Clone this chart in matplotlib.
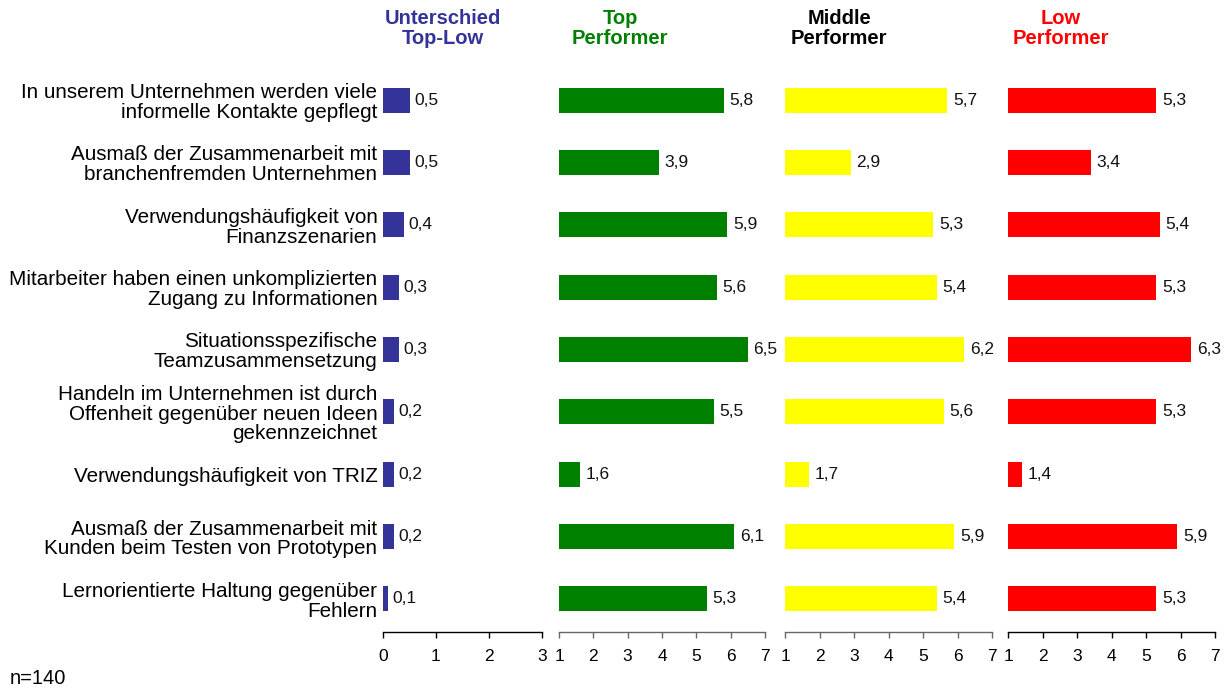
import matplotlib
matplotlib.use("Agg")
import matplotlib.pyplot as plt

plt.rcParams['font.family'] = ['Liberation Sans', 'DejaVu Sans']

categories = [
    "In unserem Unternehmen werden viele\ninformelle Kontakte gepflegt",
    "Ausmaß der Zusammenarbeit mit\nbranchenfremden Unternehmen",
    "Verwendungshäufigkeit von\nFinanzszenarien",
    "Mitarbeiter haben einen unkomplizierten\nZugang zu Informationen",
    "Situationsspezifische\nTeamzusammensetzung",
    "Handeln im Unternehmen ist durch\nOffenheit gegenüber neuen Ideen\ngekennzeichnet",
    "Verwendungshäufigkeit von TRIZ",
    "Ausmaß der Zusammenarbeit mit\nKunden beim Testen von Prototypen",
    "Lernorientierte Haltung gegenüber\nFehlern",
]
diff_top_low = [0.5, 0.5, 0.4, 0.3, 0.3, 0.2, 0.2, 0.2, 0.1]
top_performer = [5.8, 3.9, 5.9, 5.6, 6.5, 5.5, 1.6, 6.1, 5.3]
middle_performer = [5.7, 2.9, 5.3, 5.4, 6.2, 5.6, 1.7, 5.9, 5.4]
low_performer = [5.3, 3.4, 5.4, 5.3, 6.3, 5.3, 1.4, 5.9, 5.3]

panel_titles = [("Unterschied", "Top-Low"), ("Top", "Performer"),
                ("Middle", "Performer"), ("Low", "Performer")]
title_colors = ["#333399", "#008000", "#000000", "#ff0000"]
bar_colors = ["#333399", "#008000", "#ffff00", "#ff0000"]
axis_colors = ["#000000", "#666666", "#666666", "#000000"]
series = [diff_top_low, top_performer, middle_performer, low_performer]
x_ranges = [(0, 3), (1, 7), (1, 7), (1, 7)]
x_ticks = [[0, 1, 2, 3], [1, 2, 3, 4, 5, 6, 7], [1, 2, 3, 4, 5, 6, 7], [1, 2, 3, 4, 5, 6, 7]]

W, H = 1232, 688
fig = plt.figure(figsize=(W / 100, H / 100), dpi=100)

panel_px = [(383, 542), (559, 765), (785, 992), (1008, 1215)]
title_cx = [443, 620, 839, 1061]
top_px, bot_px = 67, 632

n = len(categories)
pos = list(range(n))

for i, (vals, (x0, x1)) in enumerate(zip(series, panel_px)):
    ax = fig.add_axes([x0 / W, 1 - bot_px / H, (x1 - x0) / W, (bot_px - top_px) / H])
    lo, hi = x_ranges[i]
    ax.barh(pos, [v - lo for v in vals], left=lo, height=0.4, color=bar_colors[i])
    for p, v in zip(pos, vals):
        ax.text(v + (hi - lo) * 0.028, p, f"{v:.1f}".replace(".", ","),
                va="center", ha="left", fontsize=12.5, color="#111111")
    ax.set_xlim(lo, hi)
    ax.set_ylim(n - 1 + 0.53, -0.53)
    ax.set_xticks(x_ticks[i])
    ax.set_xticklabels([str(t) for t in x_ticks[i]], fontsize=12.5)
    ax.tick_params(axis="x", length=4, width=1, color=axis_colors[i], pad=8)
    ax.set_yticks([])
    for s in ["top", "right", "left"]:
        ax.spines[s].set_visible(False)
    ax.spines["bottom"].set_color(axis_colors[i])
    ax.spines["bottom"].set_linewidth(1)
    ax.patch.set_alpha(0)
    if i == 0:
        ax.set_yticks(pos)
        ax.set_yticklabels(categories, fontsize=14.9, linespacing=1.05)
        ax.tick_params(axis="y", length=0, pad=4)
    l1, l2 = panel_titles[i]
    fig.text(title_cx[i] / W, 1 - 18 / H, l1, ha="center", va="center",
             fontsize=14.5, fontweight="bold", color=title_colors[i])
    fig.text(title_cx[i] / W, 1 - 39 / H, l2, ha="center", va="center",
             fontsize=14.5, fontweight="bold", color=title_colors[i])

fig.text(10 / W, 1 - 678 / H, "n=140", ha="left", va="center", fontsize=14.5)

fig.savefig("out.png", dpi=100)
